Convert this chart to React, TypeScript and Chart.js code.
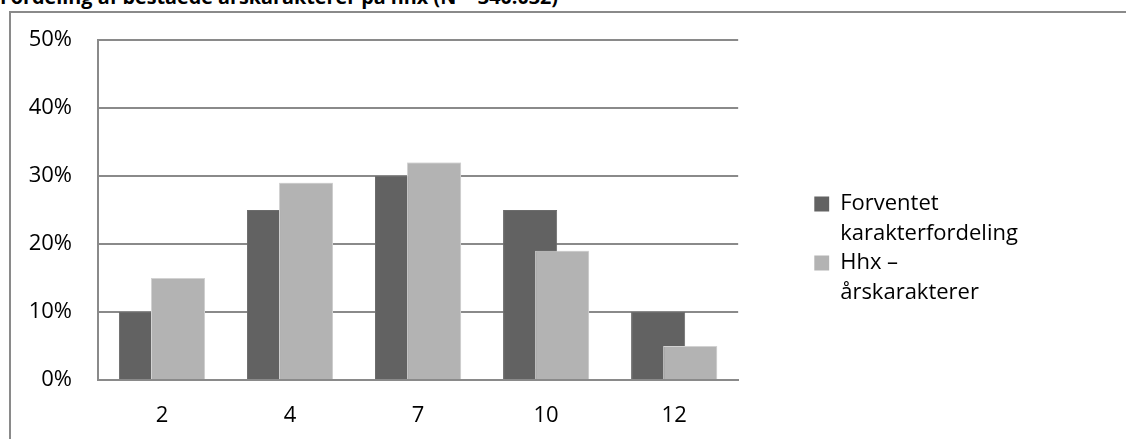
import React, { useEffect, useRef } from "react";
import { Chart, registerables } from "chart.js";

Chart.register(...registerables);

const categories = ["2", "4", "7", "10", "12"];
const expectedValues = [10, 25, 30, 25, 10];
const hhxValues = [15, 29, 32, 19, 5];
const seriesNames = ["Forventet karakterfordeling", "Hhx – årskarakterer"];
const legendLines = [
  ["Forventet", "karakterfordeling"],
  ["Hhx –", "årskarakterer"],
];
const yMin = 0;
const yMax = 50;
const yStep = 10;
const titleText = "Fordeling af beståede årskarakterer på hhx (N = 340.032)";

const FONT = "'Open Sans', sans-serif";
const DARK = "#626262";
const LIGHT = "#b3b3b3";
const GRID = "#8a8a8a";

const lightOnTop = {
  id: "lightOnTop",
  afterLayout(chart: any) {
    // let the legend text run to the canvas edge instead of being clipped
    if (chart.legend) {
      chart.legend.right = chart.width;
      chart.legend.width = chart.legend.right - chart.legend.left;
    }
  },
  afterDatasetsDraw(chart: any) {
    const meta = chart.getDatasetMeta(1);
    const ctx = chart.ctx;
    const a = chart.chartArea;
    ctx.save();
    ctx.beginPath();
    ctx.rect(a.left, a.top, a.right - a.left, a.bottom - a.top);
    ctx.clip();
    meta.data.forEach((el: any) => el.draw(ctx));
    ctx.restore();
  },
};

export default function App() {
  const ref = useRef<HTMLCanvasElement | null>(null);

  useEffect(() => {
    document.body.style.margin = "0";
    const canvas = ref.current;
    if (!canvas) return;
    const chart = new Chart(canvas, {
      type: "bar",
      data: {
        labels: categories,
        datasets: [
          {
            label: seriesNames[0],
            data: expectedValues,
            backgroundColor: DARK,
            borderColor: "#6c6c6c",
            borderWidth: 1,
            categoryPercentage: 0.5008,
            barPercentage: 1.6875,
          },
          {
            label: seriesNames[1],
            data: hhxValues,
            backgroundColor: LIGHT,
            borderColor: "#d2d2d2",
            borderWidth: 1,
            categoryPercentage: 0.5008,
            barPercentage: 1.6875,
          },
        ],
      },
      options: {
        responsive: false,
        animation: false,
        devicePixelRatio: 1,
        layout: { padding: { left: 10, top: 40, right: 151, bottom: 0 } },
        scales: {
          x: {
            grid: { display: false },
            border: { display: true, color: GRID, width: 2 },
            ticks: { color: "#000", padding: 15, font: { family: FONT, size: 22 } },
            afterFit: (s: any) => {
              s.height = 59;
            },
          },
          y: {
            min: yMin,
            max: yMax,
            grid: { color: GRID, lineWidth: 2, drawTicks: false },
            border: { display: true, color: GRID, width: 2 },
            ticks: {
              stepSize: yStep,
              color: "#000",
              padding: 26,
              font: { family: FONT, size: 22 },
              callback: (v: any) => `${v}%`,
            },
            afterFit: (s: any) => {
              s.width = 88;
            },
          },
          gap: {
            position: "right",
            display: true,
            grid: { display: false },
            border: { display: false },
            ticks: { display: false },
            afterFit: (s: any) => {
              s.width = 76;
            },
          },
        },
        plugins: {
          tooltip: { enabled: false },
          title: { display: false },
          legend: {
            position: "right",
            align: "start",
            title: {
              display: true,
              text: "",
              padding: { top: 143, bottom: 0 },
              font: { size: 10, lineHeight: 1 },
            },
            labels: {
              boxWidth: 15,
              boxHeight: 15,
              padding: 0,
              color: "#000",
              font: { family: FONT, size: 22, lineHeight: 29.5 / 22 },
              generateLabels: (c: any) =>
                c.data.datasets.map((ds: any, i: number) => ({
                  text: legendLines[i],
                  fillStyle: ds.backgroundColor,
                  strokeStyle: ds.backgroundColor,
                  lineWidth: 0,
                  hidden: false,
                  datasetIndex: i,
                  fontColor: "#000",
                })),
            },
          },
        },
      },
      plugins: [lightOnTop],
    });
    return () => chart.destroy();
  }, []);

  return (
    <div style={{ position: "relative", width: 1126, height: 439, overflow: "hidden", background: "#fff" }}>
      <div
        style={{
          position: "absolute",
          left: 9,
          top: 11,
          width: 1200,
          height: 500,
          border: `2px solid ${GRID}`,
          boxSizing: "border-box",
        }}
      />
      <div
        style={{
          position: "absolute",
          left: 0,
          top: -13,
          fontFamily: FONT,
          fontWeight: 700,
          fontSize: 19.8,
          lineHeight: "20px",
          whiteSpace: "nowrap",
          color: "#000",
        }}
      >
        {titleText}
      </div>
      <canvas ref={ref} width={1126} height={439} style={{ position: "absolute", left: 0, top: 0 }} />
    </div>
  );
}
